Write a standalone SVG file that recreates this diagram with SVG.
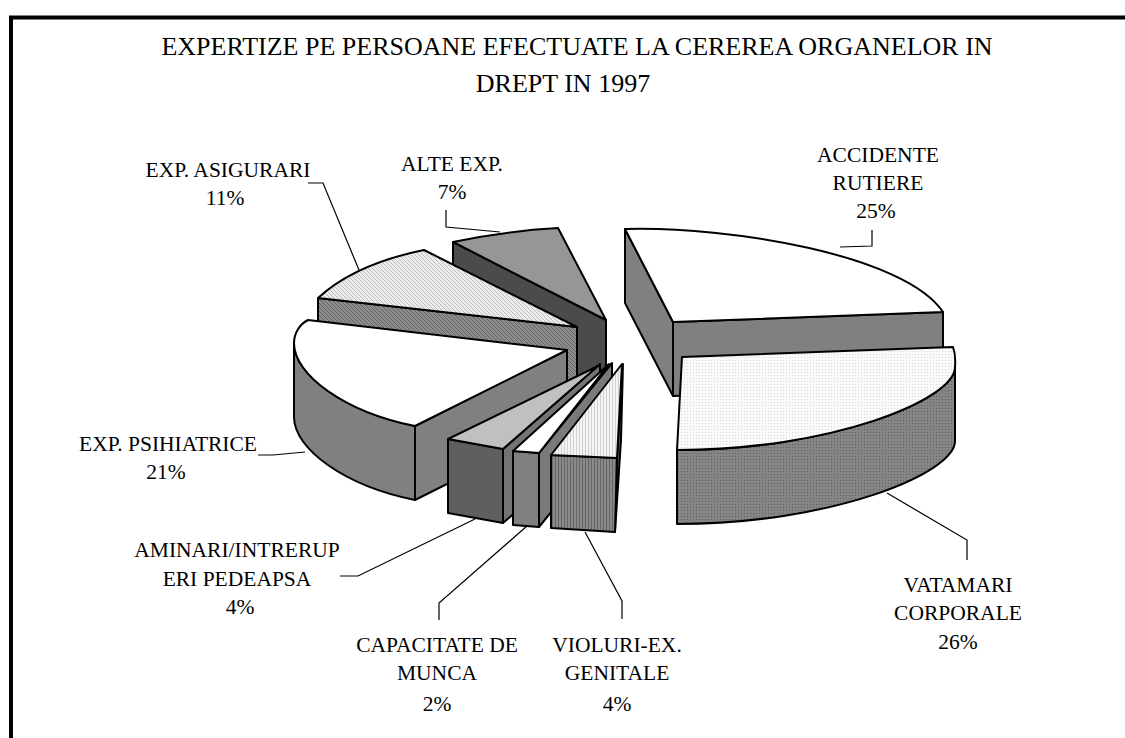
<svg xmlns="http://www.w3.org/2000/svg" width="1125" height="738" viewBox="0 0 1125 738">
<defs>
<style>
.t{font-family:"Liberation Serif","Times New Roman",serif;fill:#000;text-anchor:middle}
.title{font-size:26px}
.lbl{font-size:21.5px}
.f{stroke:#000;stroke-width:2;stroke-linejoin:round}
.ld{fill:none;stroke:#000;stroke-width:1.2}
</style>
<pattern id="hatchL" width="4" height="4" patternUnits="userSpaceOnUse">
<rect width="4" height="4" fill="#ececec"/>
<path d="M0,0 L4,4" stroke="#b0b0b0" stroke-width="0.8"/>
</pattern>
<pattern id="hatchD" width="4" height="4" patternUnits="userSpaceOnUse">
<rect width="4" height="4" fill="#8c8c8c"/>
<path d="M0,0 L4,4" stroke="#5a5a5a" stroke-width="0.8"/>
</pattern>
<pattern id="dotL" width="3" height="3" patternUnits="userSpaceOnUse">
<rect width="3" height="3" fill="#fafafa"/>
<rect width="1" height="1" fill="#d8d8d8"/>
</pattern>
<pattern id="dotD" width="3" height="3" patternUnits="userSpaceOnUse">
<rect width="3" height="3" fill="#858585"/>
<rect width="1" height="1" fill="#5e5e5e"/>
</pattern>
<pattern id="vstL" width="3" height="3" patternUnits="userSpaceOnUse">
<rect width="3" height="3" fill="#f4f4f4"/>
<rect width="1" height="3" fill="#d0d0d0"/>
</pattern>
<pattern id="vstD" width="3" height="3" patternUnits="userSpaceOnUse">
<rect width="3" height="3" fill="#8a8a8a"/>
<rect width="1" height="3" fill="#666"/>
</pattern>
</defs>
<rect width="1125" height="738" fill="#fff"/>
<path d="M11,738 V17.5 H1125" fill="none" stroke="#000" stroke-width="4"/>

<g id="title">
<text class="t title" x="577" y="55">EXPERTIZE PE PERSOANE EFECTUATE LA CEREREA ORGANELOR IN</text>
<text class="t title" x="563" y="92">DREPT IN 1997</text>
</g>

<g id="slice-alte">
<polygon class="f" fill="#4b4b4b" points="453,242 606,320 606,394 453,316"/>
<path class="f" fill="#969696" d="M453,242 Q505,231 558,228 L606,320 Z"/>
</g>

<g id="slice-asigurari">
<polygon class="f" fill="url(#hatchD)" points="318,298 577,327 577,401 318,372"/>
<path class="f" fill="url(#hatchL)" d="M318,298 Q355,264 424,250 L577,327 Z"/>
</g>

<g id="slice-accidente">
<polygon class="f" fill="#808080" points="625,229 673,322 673,396 625,303"/>
<polygon class="f" fill="#808080" points="673,322 943,312 943,386 673,396"/>
<path class="f" fill="#fff" d="M625,229 C730,226 905,255 943,312 L673,322 Z"/>
</g>

<g id="slice-psihiatrice">
<path class="f" fill="#808080" d="M294,343 L294,417 C294,449 345,486 415,500 L415,426 C345,412 294,375 294,343 Z"/>
<polygon class="f" fill="#808080" points="415,426 567,350 567,424 415,500"/>
<path class="f" fill="#fff" d="M308,320 L567,350 L415,426 C345,412 294,375 294,343 C294,333 300,324 308,320 Z"/>
</g>

<g id="slice-vatamari">
<path class="f" fill="url(#dotD)" d="M955,367 C955,400 830,450 677,450 L677,524 C830,524 955,474 955,441 Z"/>
<path class="f" fill="url(#dotL)" d="M682,357 L953,347 Q956,355 955,367 C955,400 830,450 677,450 Z"/>
</g>

<g id="slice-aminari">
<polygon class="f" fill="#747474" points="503,449 600,364 600,440 503,523"/>
<polygon class="f" fill="#5f5f5f" points="448,439 503,449 503,523 448,513"/>
<polygon class="f" fill="#c0c0c0" points="448,439 598,366 503,449"/>
</g>

<g id="slice-capacitate">
<polygon class="f" fill="#7a7a7a" points="539,453 612,363 612,437 539,527"/>
<polygon class="f" fill="#808080" points="513,451 539,453 539,527 513,525"/>
<polygon class="f" fill="#fff" points="513,451 609,364 539,453"/>
</g>

<g id="slice-violuri">
<polygon class="f" fill="#555" points="617,458 623,364 621,440 615,532"/>
<polygon class="f" fill="url(#vstD)" points="551,455 617,458 615,532 551,528"/>
<polygon class="f" fill="url(#vstL)" points="551,455 622,364 617,458"/>
</g>

<g id="connectors">
<polyline class="ld" points="872,230 872,246 840,247"/>
<polyline class="ld" points="446,210 446,227 500,232"/>
<polyline class="ld" points="308,183 323,183 359,270"/>
<polyline class="ld" points="258,455 273,455 305,452"/>
<polyline class="ld" points="340,576 358,576 475,519"/>
<polyline class="ld" points="439,620 439,603 527,526"/>
<polyline class="ld" points="585,532 622,601 622,619"/>
<polyline class="ld" points="887,493 967,540 967,560"/>
</g>

<g id="labels">
<text class="t lbl" x="878" y="162">ACCIDENTE</text>
<text class="t lbl" x="878" y="190">RUTIERE</text>
<text class="t lbl" x="876" y="218">25%</text>
<text class="t lbl" x="452" y="171">ALTE EXP.</text>
<text class="t lbl" x="452" y="199">7%</text>
<text class="t lbl" x="228" y="177">EXP. ASIGURARI</text>
<text class="t lbl" x="225" y="205">11%</text>
<text class="t lbl" x="168" y="451">EXP. PSIHIATRICE</text>
<text class="t lbl" x="166" y="479">21%</text>
<text class="t lbl" x="237" y="557">AMINARI/INTRERUP</text>
<text class="t lbl" x="237" y="586">ERI PEDEAPSA</text>
<text class="t lbl" x="240" y="614">4%</text>
<text class="t lbl" x="437" y="652">CAPACITATE DE</text>
<text class="t lbl" x="437" y="680">MUNCA</text>
<text class="t lbl" x="437" y="711">2%</text>
<text class="t lbl" x="617" y="652">VIOLURI-EX.</text>
<text class="t lbl" x="617" y="680">GENITALE</text>
<text class="t lbl" x="617" y="711">4%</text>
<text class="t lbl" x="958" y="592">VATAMARI</text>
<text class="t lbl" x="958" y="620">CORPORALE</text>
<text class="t lbl" x="958" y="649">26%</text>
</g>
</svg>
